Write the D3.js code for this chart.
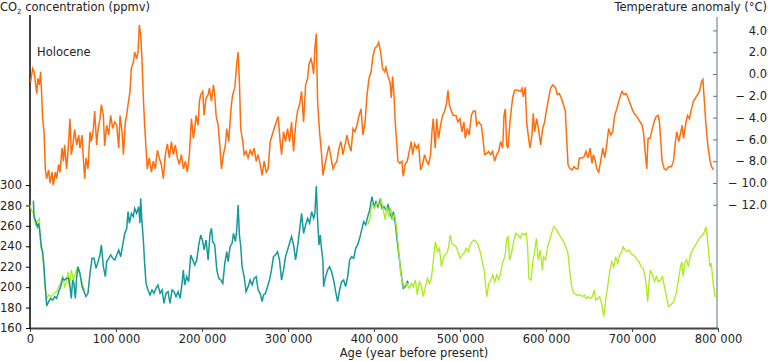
<!DOCTYPE html>
<html>
<head>
<meta charset="utf-8">
<script src="https://cdn.jsdelivr.net/npm/d3@7"></script>
<style>
  body { margin: 0; background: #fff; }
  svg text { font-family: "DejaVu Sans", Verdana, sans-serif; font-size: 11.5px; fill: #222; }
</style>
</head>
<body>
<svg id="chart" width="768" height="361"></svg>
<script>
// age in thousand years before present, temperature anomaly in °C
var tempSeries = [[0.8,-0.7],[3.1,0.5],[4.7,0.2],[6.2,-0.7],[7.8,-1.8],[9.3,-0.4],[10.9,-1.0],[12.4,0.2],[14.0,-2.8],[14.7,-4.1],[16.3,-5.3],[17.8,-8.7],[19.4,-9.6],[21.7,-8.8],[23.3,-10.0],[25.6,-9.0],[27.1,-10.2],[29.5,-9.0],[31.0,-9.6],[33.3,-8.3],[34.9,-9.0],[37.2,-6.8],[38.8,-8.0],[40.3,-6.5],[42.6,-8.7],[44.2,-7.1],[46.5,-4.1],[48.0,-7.4],[50.4,-6.2],[51.9,-5.1],[54.3,-6.5],[56.6,-5.6],[58.1,-6.8],[60.5,-5.6],[62.0,-7.7],[63.6,-9.6],[65.1,-7.7],[67.4,-8.7],[69.8,-5.3],[71.3,-6.2],[73.6,-5.1],[75.2,-3.4],[77.5,-6.5],[79.1,-5.1],[81.4,-4.1],[83.0,-2.8],[85.3,-3.8],[86.8,-6.6],[89.2,-4.7],[91.5,-5.6],[93.8,-3.8],[96.2,-5.0],[98.5,-4.4],[100.8,-4.7],[103.2,-6.8],[104.7,-3.8],[107.0,-5.3],[108.6,-7.4],[110.9,-4.4],[112.4,-3.8],[114.0,-2.8],[116.3,-1.6],[117.8,0.5],[120.2,1.1],[121.7,2.0],[124.0,1.4],[125.6,2.0],[127.1,4.5],[128.7,3.6],[130.2,1.4],[131.8,-2.2],[133.3,-4.7],[134.9,-6.8],[136.4,-8.7],[138.7,-7.7],[141.1,-9.0],[143.4,-8.0],[145.7,-8.7],[148.1,-7.0],[150.4,-7.7],[152.7,-8.3],[155.1,-9.6],[157.4,-7.4],[159.7,-6.4],[162.1,-7.7],[164.4,-6.2],[166.7,-7.4],[169.0,-6.5],[171.4,-7.7],[173.7,-8.3],[176.0,-7.4],[178.4,-8.7],[180.7,-8.0],[183.0,-9.0],[185.3,-7.4],[187.7,-4.1],[190.0,-5.9],[191.6,-5.0],[193.1,-3.8],[195.4,-4.7],[197.0,-2.5],[198.5,-1.9],[200.9,-1.6],[202.4,-3.8],[204.7,-2.2],[207.1,-1.9],[208.6,-1.3],[211.0,-2.5],[213.3,-1.0],[214.8,-1.9],[216.4,-3.8],[218.7,-4.7],[221.0,-6.8],[222.6,-8.7],[224.9,-7.4],[227.2,-6.5],[228.8,-5.0],[231.1,-6.2],[232.6,-4.4],[234.2,-2.8],[235.7,-1.9],[238.1,-1.3],[240.4,0.9],[242.0,2.0],[243.5,-0.7],[245.0,-5.0],[247.4,-6.2],[249.0,-7.4],[251.3,-7.1],[253.6,-7.7],[256.0,-7.0],[258.3,-7.4],[260.6,-6.8],[263.0,-8.0],[265.3,-7.4],[267.6,-8.3],[269.9,-9.3],[272.3,-8.0],[274.6,-9.0],[276.9,-8.7],[279.3,-6.2],[281.6,-5.6],[283.9,-5.0],[286.3,-4.4],[288.6,-3.9],[290.9,-6.2],[292.5,-7.4],[294.8,-5.3],[297.1,-6.2],[299.5,-5.0],[301.8,-6.2],[304.1,-4.4],[306.5,-7.1],[308.8,-4.7],[311.1,-3.4],[313.5,-2.8],[315.8,-1.6],[318.1,-4.4],[320.5,-1.0],[322.8,-0.4],[324.3,0.9],[326.7,1.4],[328.2,0.9],[329.8,0.0],[331.3,2.4],[332.9,3.7],[334.4,-2.5],[336.7,-5.3],[339.1,-7.4],[340.6,-9.3],[343.0,-8.3],[345.3,-7.4],[347.6,-6.6],[350.0,-7.7],[352.3,-8.7],[354.6,-8.3],[356.9,-8.0],[359.3,-6.8],[361.6,-6.2],[363.9,-7.4],[366.3,-6.5],[368.6,-5.6],[370.9,-6.5],[373.3,-7.1],[375.6,-5.0],[377.9,-5.3],[380.2,-4.7],[382.6,-3.8],[384.9,-3.2],[387.2,-5.6],[389.6,-4.4],[391.9,-1.9],[394.2,-0.4],[396.6,0.2],[398.9,1.7],[401.2,2.4],[403.1,2.5],[405.4,2.9],[407.7,2.0],[410.0,0.5],[412.4,0.2],[413.9,0.6],[416.2,-0.2],[418.6,-0.7],[420.1,-2.2],[421.7,-0.2],[423.2,-1.9],[424.7,-4.4],[426.3,-6.2],[427.8,-8.0],[430.1,-8.2],[432.5,-8.0],[434.0,-9.4],[436.3,-8.3],[438.7,-8.0],[441.0,-7.1],[443.3,-6.2],[444.9,-7.4],[447.2,-6.4],[449.5,-6.8],[451.8,-6.5],[454.2,-8.8],[456.5,-8.3],[458.8,-7.4],[461.2,-8.0],[463.5,-8.3],[465.8,-7.4],[467.4,-5.3],[468.9,-4.1],[471.2,-6.8],[472.8,-4.1],[475.1,-5.9],[477.4,-4.7],[479.8,-3.8],[482.1,-3.4],[484.4,-2.7],[486.0,-1.5],[487.5,-2.8],[489.9,-3.4],[492.2,-3.8],[495.3,-3.8],[497.6,-4.4],[499.9,-4.1],[502.3,-5.3],[504.6,-4.4],[506.1,-5.9],[508.5,-5.0],[510.8,-5.6],[513.1,-3.8],[515.5,-3.4],[517.8,-3.4],[519.3,-4.7],[521.7,-4.4],[524.8,-4.7],[527.1,-6.2],[528.6,-7.4],[531.0,-7.3],[533.3,-7.1],[535.6,-7.4],[537.9,-7.1],[540.3,-8.0],[542.6,-7.4],[544.9,-7.1],[547.3,-6.2],[549.6,-6.8],[551.2,-3.8],[552.7,-3.2],[554.3,-6.5],[555.8,-6.8],[558.1,-4.4],[559.7,-3.2],[561.2,-2.2],[563.5,-1.5],[567.4,-1.5],[570.5,-1.6],[572.1,-1.3],[573.6,-2.1],[575.9,-1.2],[577.5,-4.4],[579.8,-5.9],[581.4,-6.8],[583.7,-5.6],[585.2,-3.6],[586.8,-5.3],[589.1,-4.1],[591.4,-5.1],[593.8,-6.5],[596.1,-5.0],[598.4,-4.4],[600.8,-3.2],[603.1,-2.2],[605.4,-1.3],[607.7,-1.0],[610.8,-1.2],[613.2,-1.9],[615.5,-1.8],[617.8,-2.2],[620.2,-2.8],[622.5,-3.4],[624.0,-5.9],[625.6,-8.3],[627.9,-8.7],[630.2,-8.8],[632.6,-8.5],[634.9,-8.7],[637.2,-8.7],[638.8,-7.7],[641.9,-7.7],[644.2,-7.6],[646.5,-7.1],[648.9,-7.7],[651.2,-6.8],[653.5,-8.2],[655.1,-7.4],[657.4,-8.0],[659.0,-8.7],[661.3,-9.0],[663.6,-8.0],[666.0,-6.8],[668.3,-7.7],[670.6,-6.5],[672.9,-5.0],[675.3,-5.6],[677.6,-5.3],[679.9,-3.8],[682.3,-3.2],[684.6,-2.5],[686.9,-1.9],[688.5,-1.6],[690.8,-1.9],[693.1,-1.8],[695.5,-2.2],[697.8,-2.7],[700.1,-3.2],[702.4,-3.6],[704.8,-3.8],[707.1,-4.1],[709.4,-4.4],[711.8,-4.7],[713.3,-5.3],[714.9,-6.8],[717.2,-8.7],[718.7,-5.9],[721.1,-5.9],[723.4,-5.1],[725.7,-4.4],[728.1,-3.9],[730.4,-3.8],[731.9,-4.4],[733.5,-6.2],[735.0,-8.0],[737.4,-8.7],[739.7,-8.8],[742.8,-8.5],[745.9,-8.5],[748.2,-8.0],[750.5,-6.2],[752.1,-5.3],[754.4,-6.2],[756.8,-5.3],[758.3,-4.7],[759.9,-5.9],[762.2,-4.7],[764.5,-3.8],[766.8,-4.1],[769.2,-3.2],[771.5,-2.5],[773.8,-2.2],[776.2,-1.9],[778.5,-1.6],[780.8,-0.7],[782.4,-0.5],[783.9,-2.2],[785.5,-4.1],[787.0,-5.6],[788.6,-6.8],[790.9,-8.0],[792.4,-8.5],[794.8,-8.8]];

// CO2 (ppmv), Vostok record
var co2Vostok = [[3.9,284.7],[4.7,269],[7.0,264],[8.5,259],[10.1,262.5],[11.6,252.7],[13.2,239.6],[14.7,234.7],[16.3,220],[17.8,200.5],[19.4,181.6],[21.7,185.8],[24.0,189],[26.4,187.4],[28.7,190.7],[31.0,189],[33.3,195.6],[35.7,200.5],[38.0,208.6],[40.3,207],[42.6,208.6],[45.0,208.6],[46.5,200.5],[48.0,189],[49.6,207],[51.1,203.7],[52.7,189],[54.3,210.3],[55.8,220],[58.1,213.5],[60.5,200.5],[62.8,195.6],[65.1,190.7],[67.4,194],[69.8,213.5],[72.1,228.2],[74.4,228.2],[76.8,218.4],[79.1,225],[81.4,231.5],[83.0,241.3],[85.3,220],[87.6,210.3],[89.2,225],[91.5,228.2],[93.8,231.5],[96.2,228.2],[98.5,226.6],[100.8,231.5],[103.2,236.4],[105.5,229.8],[107.8,241.3],[110.2,252.7],[112.5,257.6],[114.0,273.9],[115.6,262.5],[117.9,272.3],[120.2,269],[121.7,277.2],[124.0,272.3],[126.4,278.8],[127.9,262.5],[128.7,287],[130.2,264],[131.8,246.2],[133.3,223.3],[134.9,203.7],[137.2,197.2],[139.5,192.3],[141.9,197.2],[144.2,194],[146.5,198.8],[148.8,202.1],[151.2,194],[153.5,197.2],[155.8,184.2],[158.2,194],[160.5,195.6],[162.8,184.2],[165.2,197.2],[167.5,195.6],[169.8,190.7],[172.2,195.6],[174.5,189],[176.8,203.7],[178.3,216.8],[179.9,202.1],[182.2,210.3],[184.5,205.4],[186.9,231.5],[189.2,226.6],[191.5,221.7],[193.9,226.6],[196.2,241.3],[198.5,251],[200.9,244.5],[202.4,236.4],[204.7,246.2],[207.1,226.6],[209.4,252.7],[211.0,257.6],[212.5,244.5],[214.8,241.3],[217.2,216.8],[219.5,208.6],[221.8,207],[224.2,203.7],[226.5,223.3],[228.8,234.7],[230.4,225],[232.7,239.6],[235.0,242.9],[236.6,252.7],[238.9,244.5],[240.4,256],[242.0,280.4],[243.5,251],[245.1,239.6],[246.6,220],[249.0,210.3],[251.3,195.6],[253.6,200.5],[256.0,207],[258.3,202.1],[260.6,208.6],[263.0,210.3],[265.3,197.2],[267.6,194],[269.9,185.8],[271.5,192.3],[273.8,194],[276.2,200.5],[278.5,207],[280.8,216.8],[283.1,229.8],[285.5,231.5],[287.8,234.7],[290.1,226.6],[292.5,207],[294.8,216.8],[297.1,229.8],[299.5,236.4],[301.8,242.9],[304.1,249.4],[306.5,241.3],[308.8,226.6],[311.1,239.6],[313.5,256],[315.8,272.3],[318.1,252.7],[320.5,260.9],[322.8,267.4],[325.1,262.5],[327.5,273.9],[329.8,267.4],[331.3,272.3],[332.9,299],[334.4,265.7],[336.0,241.3],[337.5,251],[339.1,236.4],[340.6,226.6],[341.4,200.5],[343.7,210.3],[346.0,216.8],[348.4,220],[350.7,215.2],[353.0,207],[355.4,195.6],[357.7,185.8],[360.0,197.2],[362.4,205.4],[364.7,207],[367.0,200.5],[369.4,210.3],[371.7,226.6],[374.0,229.8],[376.4,228.2],[378.7,238],[381.0,241.3],[383.3,247.8],[385.7,256],[388.0,264.1],[390.3,260.9],[392.7,269],[395.0,275.5],[397.6,288.6],[400.0,278.8],[402.3,283.7],[404.6,278.8],[407.0,285.3],[409.3,277.2],[411.6,278.8],[414.0,275.5],[416.3,280.4],[418.6,272.3],[420.9,267.4],[422.5,273.9],[424.8,262.5],[426.4,249.4],[428.7,233.1],[431.0,216.8],[432.6,207],[434.1,198.8],[436.5,200.5],[438.8,205.4],[440.3,203.7]];

// CO2 (ppmv), EPICA Dome C record (two plotted stretches)
var co2DomeRecent = [[0.2,280.4],[1.6,275.5],[3.9,272.3],[6.2,260.9],[8.5,264.1],[10.9,267.4],[12.4,239.6],[14.0,234.7],[15.5,223.3],[17.0,203.7],[19.4,189],[21.7,192.3],[24.8,190.7],[27.9,194],[31.0,195.6],[33.3,200.5],[35.7,203.7],[38.0,211.9],[40.3,200.5],[42.6,205.4],[44.2,215.2],[45.8,200.5],[48.0,216.8],[50.4,207],[52.7,213.5],[55.0,218.4],[57.4,213.5],[59.7,207],[62.0,200.5],[63.6,197.2]];

var co2DomeOld = [[392.7,260.9],[395.3,267.4],[397.6,282.1],[400.8,277.2],[403.1,282.1],[406.2,280.4],[408.5,285.3],[410.8,275.5],[413.2,265.7],[414.7,278.8],[417.1,269],[419.4,277.2],[421.7,265.7],[424.0,272.3],[426.4,256],[428.7,236.4],[431.0,213.5],[432.6,207],[434.9,200.5],[438.0,203.7],[441.1,198.8],[443.5,203.7],[445.8,200.5],[448.1,207],[450.4,192.3],[452.8,205.4],[455.1,200.5],[457.4,190.7],[459.8,200.5],[462.1,208.6],[464.4,203.7],[466.7,208.6],[469.1,226.6],[471.4,244.5],[473.7,234.7],[476.1,238],[478.4,220],[479.9,226.6],[482.3,231.5],[484.6,233.1],[486.9,239.6],[488.5,251],[490.8,242.9],[493.1,241.3],[495.5,239.6],[497.8,234.7],[500.1,228.2],[502.5,231.5],[504.8,233.1],[507.1,238],[509.5,234.7],[511.8,241.3],[514.1,244.5],[516.4,246.2],[518.8,244.5],[521.1,241.3],[523.4,234.7],[525.8,224.9],[528.1,216.8],[529.6,203.7],[531.2,190.7],[533.5,203.7],[535.8,207],[538.2,211.9],[540.5,205.4],[542.8,211.9],[545.2,207],[547.5,215.2],[549.8,224.9],[552.2,229.8],[554.5,247.8],[556.0,249.4],[557.6,226.6],[559.9,233.1],[562.3,244.5],[564.6,252.7],[567.7,251],[570.0,247.8],[572.4,252.7],[574.7,251],[577.0,252.7],[578.6,239.6],[580.1,208.6],[582.5,207],[584.8,224.9],[587.1,236.4],[588.7,247.8],[591.0,226.6],[593.3,236.4],[595.7,216.8],[597.2,229.8],[599.5,226.6],[601.9,239.6],[604.2,246.2],[606.5,252.7],[608.9,259.2],[611.2,257.6],[613.5,254.3],[615.8,251],[618.2,247.8],[620.5,244.5],[622.8,239.6],[625.2,234.7],[626.7,223.3],[628.3,210.3],[630.6,197.2],[632.9,194],[636.0,192.3],[639.9,192.3],[642.2,190.7],[644.5,192.3],[646.9,189],[649.2,190.7],[651.5,189],[653.9,190.7],[656.2,197.2],[657.7,187.4],[660.1,189],[662.4,190.7],[664.7,184.2],[667.1,171.1],[669.4,187.4],[671.7,200.5],[674.0,215.2],[676.4,224.9],[678.7,220],[681.0,229.8],[683.4,223.3],[685.7,231.5],[688.0,234.7],[689.6,239.6],[691.9,236.4],[694.3,234.7],[696.6,236.4],[698.9,233.1],[701.2,231.5],[703.6,229.8],[705.9,226.6],[708.2,224.9],[710.6,220],[712.9,218.4],[715.2,210.3],[716.8,198.8],[718.3,185.8],[719.9,207],[721.4,216.8],[723.7,211.9],[726.1,205.4],[728.4,210.3],[730.7,205.4],[733.1,207],[735.4,210.3],[737.7,200.5],[740.1,190.7],[742.4,180.9],[744.7,182.5],[747.0,184.2],[749.4,187.4],[751.7,195.6],[754.0,207],[756.4,220],[757.9,224.9],[759.5,210.3],[761.0,223.3],[763.3,226.6],[765.7,220],[768.0,231.5],[770.3,236.4],[772.7,239.6],[775.0,242.9],[777.3,246.2],[779.7,249.4],[782.0,251],[784.3,254.3],[785.9,259.2],[787.4,249.4],[789.0,236.4],[790.5,220],[792.1,223.3],[794.4,203.7],[796.7,190.7],[799.1,192.3]];

var ageTicks = [0, 100000, 200000, 300000, 400000, 500000, 600000, 700000, 800000];
var co2Ticks = [160, 180, 200, 220, 240, 260, 280, 300];
var tempTicks = [4, 2, 0, -2, -4, -6, -8, -10, -12];

var svg = d3.select("#chart");

var x = d3.scaleLinear().domain([0, 800000]).range([30, 718]);
var yCo2 = d3.scaleLinear().domain([160, 300]).range([328, 185]);
var yTemp = d3.scaleLinear().domain([-12, 4]).range([204.8, 30.4]);

// axes
var xAxis = d3.axisBottom(x).tickValues(ageTicks).tickSize(4).tickSizeOuter(0)
  .tickFormat(function(d){ return d3.format(",")(d).replace(/,/g, " "); });
var gx = svg.append("g").attr("transform", "translate(0,328)").call(xAxis);
gx.select(".domain").attr("stroke", "#444").attr("stroke-width", 2);
gx.selectAll(".tick line").attr("stroke", "#444");
gx.selectAll(".tick text").attr("y", 7);

var yAxisL = d3.axisLeft(yCo2).tickValues(co2Ticks).tickSize(4).tickSizeOuter(0);
var gl = svg.append("g").attr("transform", "translate(30,0)").call(yAxisL);
gl.select(".domain").remove();
gl.selectAll(".tick text").attr("x", -8);
svg.append("line").attr("x1", 30).attr("x2", 30).attr("y1", 15).attr("y2", 329)
  .attr("stroke", "#000").attr("stroke-width", 1.5);

var yAxisR = d3.axisRight(yTemp).tickValues(tempTicks).tickSize(-4).tickSizeOuter(0)
  .tickFormat(function(d){ return d < 0 ? "\u2212 " + Math.abs(d).toFixed(1) : d.toFixed(1); });
var gr = svg.append("g").attr("transform", "translate(717,0)").call(yAxisR);
gr.select(".domain").remove();
gr.selectAll(".tick line").attr("stroke", "#5f7480");
gr.selectAll(".tick text").attr("x", 50).attr("text-anchor", "end");
svg.append("line").attr("x1", 717).attr("x2", 717).attr("y1", 17).attr("y2", 329)
  .attr("stroke", "#5f7480").attr("stroke-width", 1);

// series
var lineT = d3.line().x(function(d){ return x(d[0] * 1000); }).y(function(d){ return yTemp(d[1]); });
var lineC = d3.line().x(function(d){ return x(d[0] * 1000); }).y(function(d){ return yCo2(d[1]); });

svg.append("path").datum(co2DomeRecent).attr("d", lineC)
  .attr("fill", "none").attr("stroke", "#a8ec1c").attr("stroke-width", 1.3);
svg.append("path").datum(co2Vostok).attr("d", lineC)
  .attr("fill", "none").attr("stroke", "#15999a").attr("stroke-width", 1.5);
svg.append("path").datum(co2DomeOld).attr("d", lineC)
  .attr("fill", "none").attr("stroke", "#a8ec1c").attr("stroke-width", 1.3);
svg.append("path").datum(tempSeries).attr("d", lineT)
  .attr("fill", "none").attr("stroke", "#ff6d0d").attr("stroke-width", 1.5);

// labels
var t1 = svg.append("text").attr("x", 0).attr("y", 11);
t1.append("tspan").text("CO");
t1.append("tspan").attr("dy", 3).attr("font-size", "7px").text("2");
t1.append("tspan").attr("dy", -3).text(" concentration (ppmv)");

svg.append("text").attr("x", 767).attr("y", 11).attr("text-anchor", "end")
  .text("Temperature anomaly (\u00b0C)");
svg.append("text").attr("x", 37).attr("y", 56).text("Holocene");
svg.append("text").attr("x", 414).attr("y", 357).attr("text-anchor", "middle")
  .text("Age (year before present)");
</script>
</body>
</html>
